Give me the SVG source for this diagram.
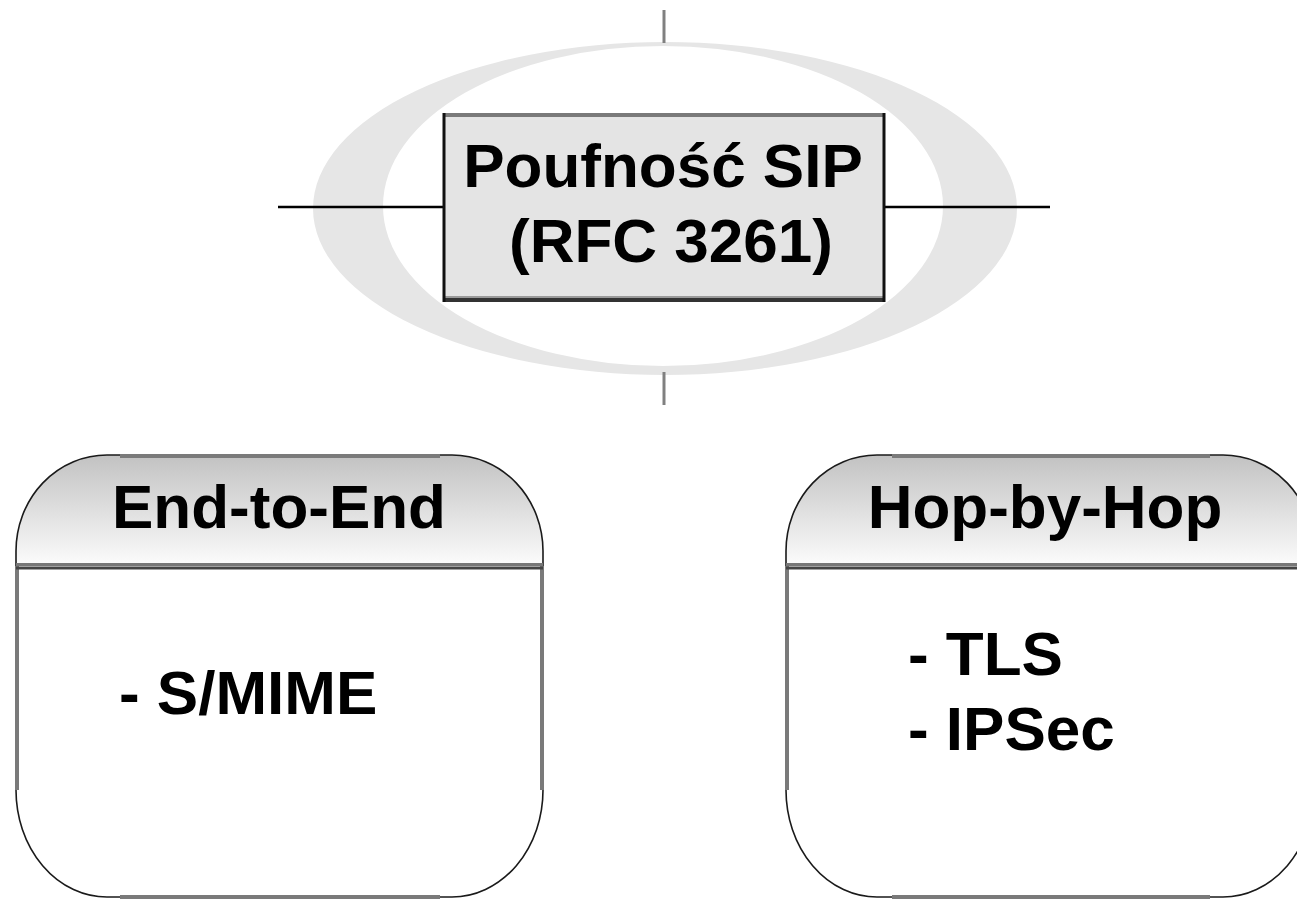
<svg xmlns="http://www.w3.org/2000/svg" width="1297" height="899" viewBox="0 0 1297 899">
  <style>
    .lbl { font-family: "Liberation Sans", Arial, sans-serif; font-weight: bold; font-size: 62px; fill: #000; }
    .mid { text-anchor: middle; }
    .curve { fill: none; stroke: #1a1a1a; stroke-width: 1.6; }
    .edge { stroke: #7a7a7a; stroke-width: 4; fill: none; }
    .tick { stroke: #808080; stroke-width: 3; }
    .wire { stroke: #000; stroke-width: 2.5; }
  </style>
  <defs>
    <linearGradient id="headFill" x1="0" y1="0" x2="0" y2="1">
      <stop offset="0" stop-color="#c2c2c2"/>
      <stop offset="1" stop-color="#fcfcfc"/>
    </linearGradient>
  </defs>

  <rect width="1297" height="899" fill="#fff"/>

  <!-- decorative ring behind the title -->
  <path d="M313,208.5 A352,166.5 0 1 0 1017,208.5 A352,166.5 0 1 0 313,208.5 Z
           M383,206 A280,160 0 1 1 943,206 A280,160 0 1 1 383,206 Z"
        fill="#e6e6e6" fill-rule="evenodd"/>

  <!-- connectors -->
  <g id="connectors">
    <line class="tick" x1="664" y1="10" x2="664" y2="43"/>
    <line class="tick" x1="664" y1="372" x2="664" y2="405"/>
    <line class="wire" x1="278" y1="207" x2="443" y2="207"/>
    <line class="wire" x1="885" y1="207" x2="1050" y2="207"/>
  </g>

  <!-- title box -->
  <g id="title">
    <rect x="443" y="114" width="442" height="187" fill="#e4e4e4"/>
    <line x1="443" y1="115" x2="885" y2="115" stroke="#7a7a7a" stroke-width="4"/>
    <line x1="443" y1="297" x2="885" y2="297" stroke="#9a9a9a" stroke-width="2"/>
    <line x1="443" y1="300" x2="885" y2="300" stroke="#333" stroke-width="4"/>
    <line x1="444" y1="113" x2="444" y2="302" stroke="#111" stroke-width="3"/>
    <line x1="884" y1="113" x2="884" y2="302" stroke="#111" stroke-width="3"/>
    <text class="lbl mid" x="663" y="187">Poufność SIP</text>
    <text class="lbl mid" x="671" y="262">(RFC 3261)</text>
  </g>

  <!-- End-to-End panel -->
  <g id="end-to-end">
    <path d="M107,455 H452 A91,96 0 0 1 543,551 V790 A91,107 0 0 1 452,897 H107 A91,107 0 0 1 16,790 V551 A91,96 0 0 1 107,455 Z" fill="#fff"/>
    <path d="M16,566 V551 A91,96 0 0 1 107,455 H452 A91,96 0 0 1 543,551 V566 Z" fill="url(#headFill)"/>
    <path class="curve" d="M107,455 H452 A91,96 0 0 1 543,551 V790 A91,107 0 0 1 452,897 H107 A91,107 0 0 1 16,790 V551 A91,96 0 0 1 107,455 Z"/>
    <path class="edge" d="M120,456 H440 M542,566 V790 M120,897 H440 M17,566 V790"/>
    <line x1="16" y1="564.5" x2="543" y2="564.5" stroke="#777" stroke-width="3"/>
    <line x1="16" y1="568" x2="543" y2="568" stroke="#444" stroke-width="3"/>
    <text class="lbl mid" x="279" y="528">End-to-End</text>
    <text class="lbl" x="119" y="714">- S/MIME</text>
  </g>

  <!-- Hop-by-Hop panel -->
  <g id="hop-by-hop">
    <path d="M877,455 H1223 A91,96 0 0 1 1314,551 V790 A91,107 0 0 1 1223,897 H877 A91,107 0 0 1 786,790 V551 A91,96 0 0 1 877,455 Z" fill="#fff"/>
    <path d="M786,566 V551 A91,96 0 0 1 877,455 H1223 A91,96 0 0 1 1314,551 V566 Z" fill="url(#headFill)"/>
    <path class="curve" d="M877,455 H1223 A91,96 0 0 1 1314,551 V790 A91,107 0 0 1 1223,897 H877 A91,107 0 0 1 786,790 V551 A91,96 0 0 1 877,455 Z"/>
    <path class="edge" d="M892,456 H1210 M1313,566 V790 M892,897 H1210 M787,566 V790"/>
    <line x1="786" y1="564.5" x2="1314" y2="564.5" stroke="#777" stroke-width="3"/>
    <line x1="786" y1="568" x2="1314" y2="568" stroke="#444" stroke-width="3"/>
    <text class="lbl mid" x="1045" y="528">Hop-by-Hop</text>
    <text class="lbl" x="908" y="675">- TLS</text>
    <text class="lbl" x="908" y="750">- IPSec</text>
  </g>
</svg>
